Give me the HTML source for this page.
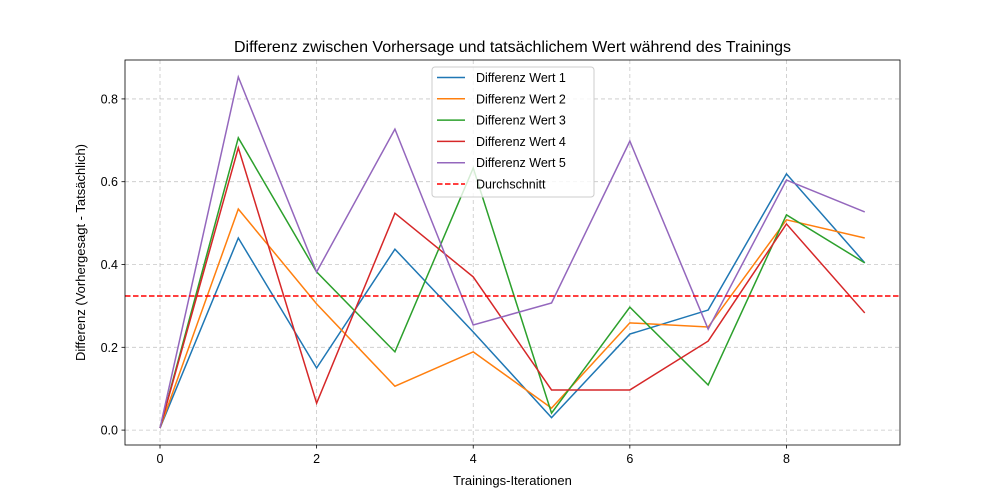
<!DOCTYPE html>
<html><head><meta charset="utf-8"><style>
html,body{margin:0;padding:0;background:#fff;}
svg{display:block;font-family:"Liberation Sans","DejaVu Sans",sans-serif;}
</style></head><body>
<svg id="chart" width="1000" height="500"></svg>
<script>
const categories=[0,1,2,3,4,5,6,7,8,9];
const series1=[0.005,0.464,0.15,0.437,0.237,0.03,0.232,0.29,0.619,0.404];
const series2=[0.005,0.534,0.305,0.106,0.189,0.053,0.259,0.249,0.508,0.464];
const series3=[0.005,0.706,0.382,0.189,0.633,0.041,0.297,0.109,0.52,0.404];
const series4=[0.005,0.682,0.065,0.524,0.37,0.097,0.097,0.215,0.498,0.283];
const series5=[0.005,0.853,0.382,0.727,0.254,0.307,0.698,0.244,0.604,0.527];
const meanValue=[0.324];
const seriesNames=["Differenz Wert 1","Differenz Wert 2","Differenz Wert 3","Differenz Wert 4","Differenz Wert 5"];
const xTicks=[0,2,4,6,8];
const yTicks=[0.0,0.2,0.4,0.6,0.8];

const NS="http://www.w3.org/2000/svg";
const svg=document.getElementById('chart');
const L=125,R=900,T=60,B=445;
const xMin=-0.447,xMax=9.45,yMin=-0.036,yMax=0.894;
const xs=v=>L+(v-xMin)/(xMax-xMin)*(R-L);
const ys=v=>B-(v-yMin)/(yMax-yMin)*(B-T);
function el(tag,attrs,txt){const e=document.createElementNS(NS,tag);for(const k in attrs)e.setAttribute(k,attrs[k]);if(txt!==undefined)e.textContent=txt;svg.appendChild(e);return e;}

// grid
xTicks.forEach(t=>{const g=el('line',{x1:xs(t),x2:xs(t),y1:T,y2:B,stroke:'#b0b0b0','stroke-width':0.8,'stroke-dasharray':'4,3',opacity:0.7});

});
yTicks.forEach(t=>{const g=el('line',{x1:L,x2:R,y1:ys(t),y2:ys(t),stroke:'#b0b0b0','stroke-width':0.8,'stroke-dasharray':'4,3',opacity:0.7});

});

// series
const colors=['#1f77b4','#ff7f0e','#2ca02c','#d62728','#9467bd'];
[series1,series2,series3,series4,series5].forEach((s,i)=>{
  const p=el('polyline',{points:s.map((v,j)=>xs(categories[j])+','+ys(v)).join(' '),fill:'none',stroke:colors[i],'stroke-width':1.5});
  
  
});
const m=el('line',{x1:L,x2:R,y1:ys(meanValue[0]),y2:ys(meanValue[0]),stroke:'#ff0000','stroke-width':1.5,'stroke-dasharray':'5.5,2.5'});



// axes frame
const f=el('rect',{x:L,y:T,width:R-L,height:B-T,fill:'none',stroke:'#000','stroke-width':0.8});



xTicks.forEach(t=>{el('line',{x1:xs(t),x2:xs(t),y1:B,y2:B+3.5,stroke:'#000','stroke-width':0.8});
const tx=el('text',{x:xs(t),y:B+18,'text-anchor':'middle','font-size':12.5,fill:'#000'},String(t));

});
yTicks.forEach(t=>{el('line',{x1:L-3.5,x2:L,y1:ys(t),y2:ys(t),stroke:'#000','stroke-width':0.8});
const tx=el('text',{x:L-7,y:ys(t)+4.5,'text-anchor':'end','font-size':12.5,fill:'#000'},t.toFixed(1));

});

const title=el('text',{x:(L+R)/2,y:52,'text-anchor':'middle','font-size':16,fill:'#000'},'Differenz zwischen Vorhersage und tatsächlichem Wert während des Trainings');


const xt=el('text',{x:(L+R)/2,y:485,'text-anchor':'middle','font-size':13,fill:'#000'},'Trainings-Iterationen');


const yt=el('text',{x:0,y:0,'text-anchor':'middle','font-size':13,fill:'#000',transform:'translate(85,'+((T+B)/2)+') rotate(-90)'},'Differenz (Vorhergesagt - Tatsächlich)');



// legend
const lb=el('rect',{x:432,y:67,width:162,height:130,rx:3,fill:'#fff','fill-opacity':0.8,stroke:'#ccc','stroke-width':1});


const labels=seriesNames.concat(['Durchschnitt']);
const lcol=colors.concat(['#ff0000']);
labels.forEach((n,i)=>{
  const y=77.5+i*21.3;
  const ln=el('line',{x1:437,x2:465,y1:y,y2:y,stroke:lcol[i],'stroke-width':1.5,'stroke-dasharray':i===5?'5.5,2.5':'none'});
  
  
  const tx=el('text',{x:476,y:y+4.5,'font-size':12.5,fill:'#000'},n);
  
  
});
</script>
</body></html>
